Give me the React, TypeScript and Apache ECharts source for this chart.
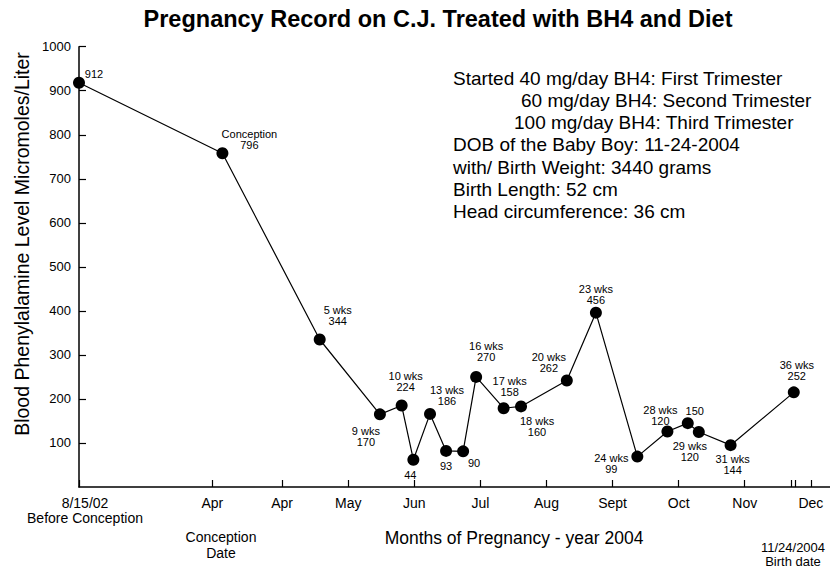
import React, { useEffect, useRef } from "react";
import * as echarts from "echarts";

// Tick positions on the month scale (May = 5 ... Dec = 12)
const xTickValues = [0.927, 2.945, 4.0, 5, 6, 7, 8, 9, 10, 11, 11.71, 11.77, 12];
const xTickLabels = ["8/15/02\nBefore Conception", "Apr", "Apr", "May", "Jun", "Jul", "Aug", "Sept", "Oct", "Nov", "", "", "Dec"];

// Points: position on month scale and plotted level
const monthPos = [0.927, 3.097, 4.569, 5.48, 5.809, 5.986, 6.238, 6.481, 6.739, 6.936, 7.352, 7.615, 8.308, 8.748, 9.375, 9.83, 10.138, 10.305, 10.786, 11.742];
const levels = [918, 758, 335, 165, 185, 62, 166, 82, 81, 250, 179, 183, 242, 396, 69, 126, 145, 125, 95, 215];
const pointLabels = [
  "912", "Conception\n796", "5 wks\n344", "9 wks\n170", "10 wks\n224", "44", "13 wks\n186", "93", "90",
  "16 wks\n270", "17 wks\n158", "18 wks\n160", "20 wks\n262", "23 wks\n456", "24 wks\n99", "28 wks\n120",
  "150", "29 wks\n120", "31 wks\n144", "36 wks\n252",
];

const noteLines = [
  "Started 40 mg/day BH4: First Trimester",
  "60 mg/day BH4: Second Trimester",
  "100 mg/day BH4: Third Trimester",
  "DOB of the Baby Boy: 11-24-2004",
  "with/ Birth Weight: 3440 grams",
  "Birth Length: 52 cm",
  "Head circumference: 36 cm",
];

const titleText = "Pregnancy Record on C.J. Treated with BH4 and Diet";
const yAxisTitle = "Blood Phenylalamine Level Micromoles/Liter";
const xAxisTitle = "Months of Pregnancy - year 2004";
const conceptionNote = "Conception\nDate";
const birthNote = "11/24/2004\nBirth date";

// layout (not data)
const labelOffsets = [
  [15, -9], [27, -14], [18, -24], [-14, 22], [4, -24], [-3, 15], [17, -18], [0, 15], [11, 12], [10, -25],
  [6, -22], [16, 20], [-18, -18], [0, -18], [-26, 7], [-7, -16], [7, -12], [-9, 20], [2, 19], [3, -22],
];
const noteIndent = [453, 521, 514, 453, 453, 453, 453];

const FONT = "'Liberation Sans', Arial, Helvetica, sans-serif";

export default function App() {
  const ref = useRef<HTMLDivElement>(null);
  useEffect(() => {
    if (!ref.current) return;
    const chart = echarts.init(ref.current, null, { renderer: "svg" });
    const labelMap: Record<string, string> = {};
    xTickValues.forEach((v, i) => (labelMap[v.toFixed(3)] = xTickLabels[i]));
    const labelValues = xTickValues.filter((_, i) => xTickLabels[i] !== "");
    const firstKey = xTickValues[0].toFixed(3);

    const data = monthPos.map((x, i) => ({
      value: [x, levels[i]],
      label: {
        show: true,
        formatter: pointLabels[i],
        position: "inside",
        offset: labelOffsets[i],
        align: "center",
        verticalAlign: "middle",
        color: "#000",
        fontFamily: FONT,
        fontSize: 11,
        lineHeight: 11,
      },
    }));

    const graphics: any[] = [
      {
        type: "text", x: 438, y: 19,
        style: { text: titleText, font: `bold 23.5px ${FONT}`, fill: "#000", textAlign: "center", textVerticalAlign: "middle" },
      },
      {
        type: "text", x: 22, y: 244, rotation: Math.PI / 2,
        style: { text: yAxisTitle, font: `19.5px ${FONT}`, fill: "#000", textAlign: "center", textVerticalAlign: "middle" },
      },
      {
        type: "text", x: 514, y: 538,
        style: { text: xAxisTitle, font: `17.5px ${FONT}`, fill: "#000", textAlign: "center", textVerticalAlign: "middle" },
      },
      {
        type: "text", x: 221, y: 545,
        style: { text: conceptionNote, font: `14px ${FONT}`, lineHeight: 16, fill: "#000", textAlign: "center", textVerticalAlign: "middle" },
      },
      {
        type: "text", x: 793, y: 554.5,
        style: { text: birthNote, font: `13px ${FONT}`, lineHeight: 14, fill: "#000", textAlign: "center", textVerticalAlign: "middle" },
      },
      ...noteLines.map((t, i) => ({
        type: "text", x: noteIndent[i], y: 78.3 + i * 22.2,
        style: { text: t, font: `19px ${FONT}`, fill: "#000", textAlign: "left", textVerticalAlign: "middle" },
      })),
    ];

    chart.setOption({
      animation: false,
      backgroundColor: "#fff",
      grid: { left: 79, right: 0, top: 46.7, bottom: 82, containLabel: false },
      xAxis: {
        type: "value",
        min: 0.927,
        max: 12.29,
        splitLine: { show: false },
        axisLine: { show: true, onZero: false, lineStyle: { color: "#000", width: 1.5 } },
        axisTick: { show: true, inside: true, length: 7, customValues: xTickValues, lineStyle: { color: "#000", width: 1.2 } },
        axisLabel: {
          show: true,
          customValues: labelValues,
          formatter: (v: number) => {
            const key = v.toFixed(3);
            const s = labelMap[key] ?? "";
            if (key === firstKey) return s.split("\n").map((l) => `{f|${l}}`).join("\n");
            return s;
          },
          rich: {
            f: { padding: [0, 0, 0, 12], fontFamily: FONT, fontSize: 14, lineHeight: 15, color: "#000" },
          },
          color: "#000",
          fontFamily: FONT,
          fontSize: 14,
          lineHeight: 15,
          margin: 8,
          showMinLabel: true,
          showMaxLabel: true,
        },
      },
      yAxis: {
        type: "value",
        min: 0,
        max: 1000,
        interval: 100,
        splitLine: { show: false },
        axisLine: { show: true, lineStyle: { color: "#000", width: 1.5 } },
        axisTick: { show: true, inside: true, length: 7, lineStyle: { color: "#000", width: 1.2 } },
        axisLabel: {
          color: "#000",
          fontFamily: FONT,
          fontSize: 13,
          margin: 8,
          showMinLabel: false,
          formatter: (v: number) => (v === 0 ? "" : String(v)),
        },
      },
      graphic: graphics,
      series: [
        {
          type: "line",
          data,
          clip: false,
          symbol: "circle",
          symbolSize: 12,
          itemStyle: { color: "#000" },
          lineStyle: { color: "#000", width: 1.2 },
          emphasis: { disabled: true },
        },
      ],
    });
    return () => chart.dispose();
  }, []);
  return <div ref={ref} style={{ position: "fixed", left: 0, top: 0, width: 830, height: 569, background: "#fff" }} />;
}
